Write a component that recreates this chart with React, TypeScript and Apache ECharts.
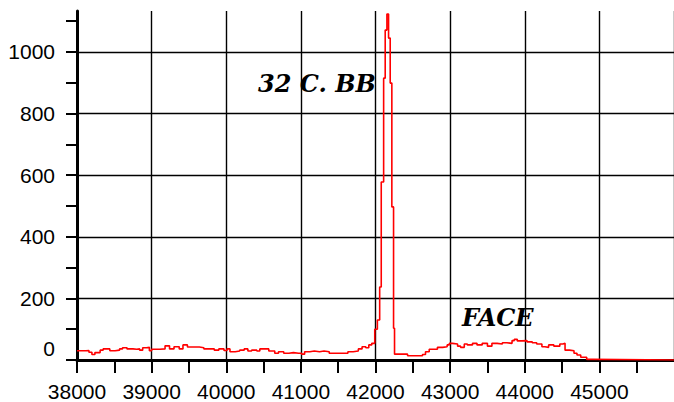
import React, { useEffect, useRef } from 'react';
import * as echarts from 'echarts';

const energy = [
  38000, 38120, 38160, 38200, 38240, 38310, 38350, 38440, 38510, 38570,
  38610, 38670, 38750, 38800, 38840, 38880, 38930, 38970, 39000, 39110,
  39180, 39240, 39300, 39370, 39420, 39480, 39560, 39640, 39700, 39770,
  39840, 39900, 39970, 40010, 40050, 40120, 40180, 40240, 40290, 40340,
  40410, 40450, 40520, 40570, 40650, 40700, 40770, 40840, 40900, 40970,
  41010, 41050, 41120, 41180, 41250, 41310, 41380, 41470, 41570, 41630,
  41700, 41770, 41820, 41870, 41910, 41950, 41990, 42025, 42056, 42077,
  42109, 42130, 42153, 42175, 42197, 42219, 42242, 42255, 42430, 42630,
  42670, 42720, 42830, 42900, 42960, 42990, 43030, 43100, 43140, 43190,
  43230, 43300, 43360, 43430, 43500, 43560, 43630, 43700, 43760, 43830,
  43860, 43900, 43960, 44030, 44100, 44160, 44230, 44270, 44320, 44390,
  44470, 44510, 44540, 44600, 44660, 44700, 44750, 44830, 44910, 46000,
];

const counts = [
  30, 31, 25, 18, 24, 32, 36, 30, 32, 36,
  40, 36, 35, 36, 32, 40, 41, 30, 35, 36,
  46, 36, 43, 36, 49, 42, 42, 40, 36, 36,
  32, 36, 31, 36, 27, 29, 32, 36, 29, 32,
  29, 36, 36, 29, 22, 27, 22, 24, 22, 22,
  19, 27, 29, 27, 29, 27, 22, 22, 22, 27,
  29, 36, 43, 40, 49, 54, 100, 130, 237, 578,
  915, 1071, 1123, 1045, 899, 497, 103, 19, 14, 18,
  27, 35, 41, 43, 49, 54, 52, 45, 41, 52,
  49, 54, 49, 54, 45, 54, 52, 56, 54, 63,
  67, 62, 63, 59, 56, 52, 43, 41, 49, 45,
  52, 54, 32, 30, 22, 16, 9, 2, 0, 0,
];

const xLabelValues = [38000, 39000, 40000, 41000, 42000, 43000, 44000, 45000];
const xTickValues = [
  38000, 38500, 39000, 39500, 40000, 40500, 41000, 41500,
  42000, 42500, 43000, 43500, 44000, 44500, 45000, 45500,
];
const yLabelValues = [0, 200, 400, 600, 800, 1000];
const yTickValues = [0, 100, 200, 300, 400, 500, 600, 700, 800, 900, 1000, 1100];

const annotations = [
  { text: '32 C. BB', left: 258, top: 71 },
  { text: 'FACE', left: 462, top: 305 },
];

const X_MIN = 38000;
const X_MAX = 46000;
const Y_MIN = 0;
const Y_MAX = 1133;

const LABEL_FONT = '"Liberation Sans", Arial, sans-serif';

export default function App() {
  const ref = useRef<HTMLDivElement>(null);

  useEffect(() => {
    if (!ref.current) return;
    const chart = echarts.init(ref.current, null, { renderer: 'svg' });
    const data = energy.map((e, i) => [e, counts[i]]);
    chart.setOption({
      animation: false,
      backgroundColor: '#ffffff',
      grid: { left: 77, right: -4, top: 11, bottom: 41, containLabel: false },
      xAxis: [
        {
          type: 'value',
          min: X_MIN,
          max: X_MAX,
          interval: 1000,
          position: 'bottom',
          axisLine: { show: true, onZero: false, lineStyle: { color: '#000', width: 3 } },
          axisTick: { show: false },
          axisLabel: {
            customValues: xLabelValues,
            margin: 21,
            fontSize: 21,
            fontFamily: LABEL_FONT,
            color: '#000',
            formatter: (v: number) => String(v),
          },
          splitLine: {
            show: true,
            showMinLine: false,
            lineStyle: { color: '#000', width: 1.4 },
          },
        },
        {
          type: 'value',
          min: X_MIN,
          max: X_MAX,
          interval: 1000,
          position: 'bottom',
          offset: 0,
          axisLine: { show: false, onZero: false },
          axisTick: {
            show: true,
            customValues: xTickValues,
            length: 13,
            lineStyle: { color: '#000', width: 2 },
          },
          axisLabel: { show: false },
          splitLine: { show: false },
        },
      ],
      yAxis: [
        {
          type: 'value',
          min: Y_MIN,
          max: Y_MAX,
          interval: 200,
          position: 'left',
          axisLine: { show: true, onZero: false, lineStyle: { color: '#000', width: 3 } },
          axisTick: { show: false },
          axisLabel: {
            customValues: yLabelValues,
            margin: 22,
            fontSize: 21,
            fontFamily: LABEL_FONT,
            color: '#000',
            formatter: (v: number) => (v === 0 ? '{z|0}' : String(v)),
            rich: {
              z: {
                fontSize: 21,
                fontFamily: LABEL_FONT,
                color: '#000',
                padding: [0, 0, 24, 0],
              },
            },
          },
          splitLine: {
            show: true,
            showMinLine: false,
            showMaxLine: false,
            lineStyle: { color: '#000', width: 1.4 },
          },
        },
        {
          type: 'value',
          min: Y_MIN,
          max: Y_MAX,
          interval: 200,
          position: 'left',
          offset: 0,
          axisLine: { show: false, onZero: false },
          axisTick: {
            show: true,
            customValues: yTickValues,
            length: 11,
            lineStyle: { color: '#000', width: 2 },
          },
          axisLabel: { show: false },
          splitLine: { show: false },
        },
      ],
      series: [
        {
          type: 'line',
          data,
          xAxisIndex: 0,
          yAxisIndex: 0,
          step: 'end',
          showSymbol: false,
          symbol: 'none',
          lineStyle: { color: '#ff0000', width: 1.6 },
          z: 5,
        },
      ],
      graphic: annotations.map((a) => ({
        type: 'text',
        left: a.left,
        top: a.top,
        z: 10,
        style: {
          text: a.text,
          fill: '#000',
          font: 'italic bold 24px "DejaVu Serif", serif',
        },
      })),
    });
    return () => chart.dispose();
  }, []);

  return (
    <div
      ref={ref}
      style={{ position: 'fixed', left: 0, top: 0, width: 674, height: 402, background: '#fff' }}
    />
  );
}
